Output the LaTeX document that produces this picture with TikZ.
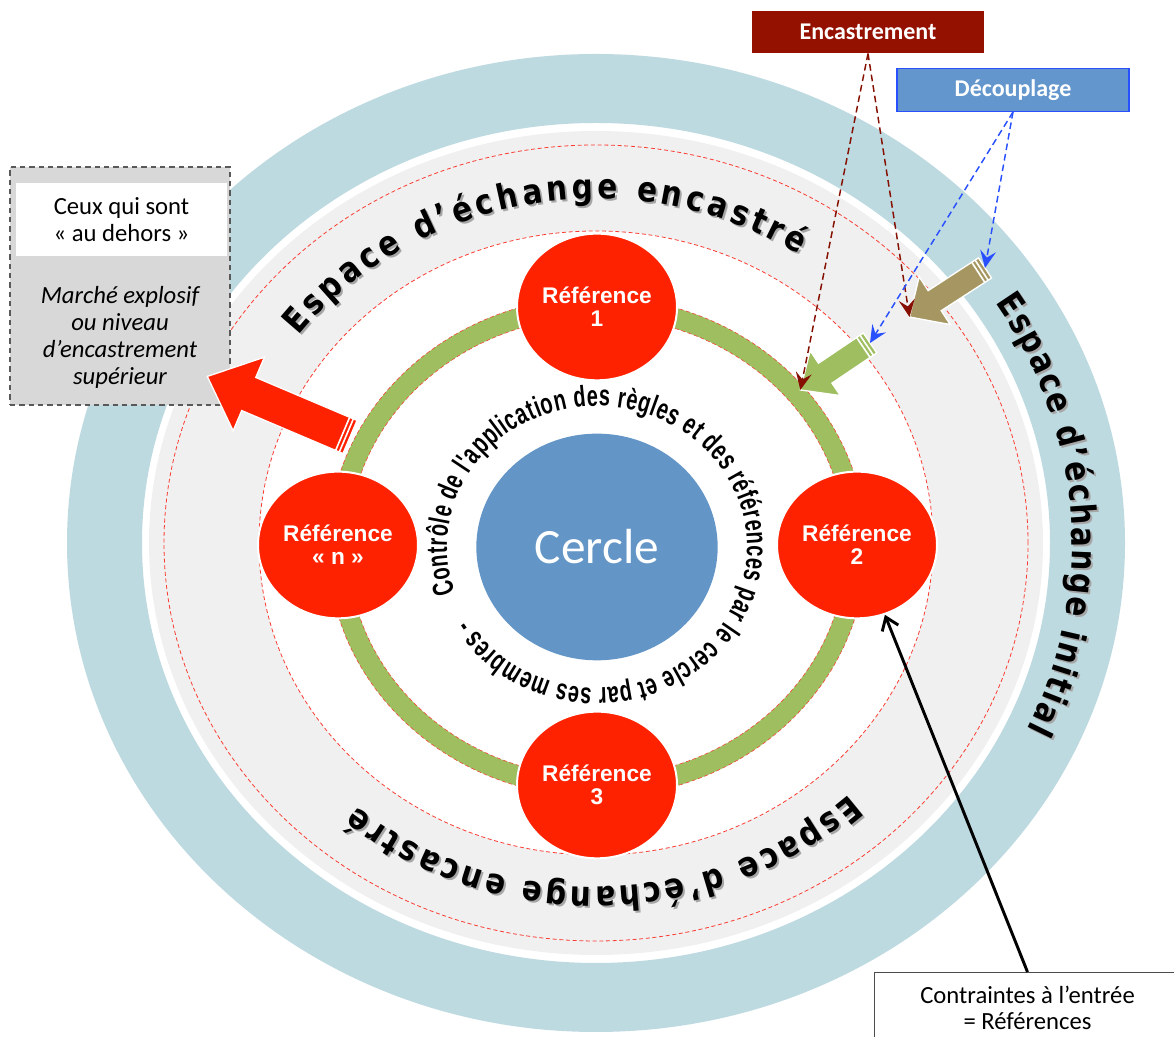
\documentclass[tikz,border=0pt]{standalone}
\usepackage{fontspec}
\setmainfont{Carlito}
\newfontfamily\arialfont{Liberation Sans}
\newfontfamily\ringfont[FakeStretch=0.68]{Liberation Sans}
\newfontfamily\espfont[FakeStretch=0.85]{DejaVu Sans}
\usetikzlibrary{shapes.geometric, arrows.meta, decorations.text, positioning}

\definecolor{ringblue}{RGB}{190,218,225}
\definecolor{diskgray}{RGB}{240,240,240}
\definecolor{refgreen}{RGB}{158,190,96}
\definecolor{refred}{RGB}{255,34,0}
\definecolor{cercleblue}{RGB}{99,150,199}
\definecolor{armbrown}{RGB}{166,151,98}
\definecolor{encred}{RGB}{148,17,0}
\definecolor{decblue}{RGB}{99,150,204}
\definecolor{decline}{RGB}{40,80,255}
\definecolor{boxgray}{RGB}{216,216,216}
\definecolor{dashred}{RGB}{250,60,50}

\tikzset{
  refnode/.style={ellipse, fill=refred, draw=white, line width=1.5pt,
    minimum width=120pt, minimum height=110pt, inner sep=0pt, text=white,
    align=center, font=\arialfont\bfseries\fontsize{17}{17}\selectfont},
  sepline/.style={dashred, line width=0.6pt, dash pattern=on 3pt off 2pt},
  tagbox/.style={rectangle, text=white, font=\bfseries\fontsize{18}{20}\selectfont,
    minimum width=174pt, minimum height=32pt},
  encarrow/.style={encred!90!black, line width=1.1pt, dash pattern=on 5pt off 3pt,
    -{Stealth[length=13pt, width=12pt, inset=5pt]}},
  decarrow/.style={decline, line width=1.1pt, dash pattern=on 5pt off 3pt,
    -{Stealth[length=13pt, width=12pt, inset=5pt]}},
}

% curved label with a soft shadow: rx, ry, start, end, text
\newcommand{\arclabel}[5]{%
  \path[decorate, decoration={text along path, text color=black!35, text align=fit to path,
      text={|\espfont\bfseries\fontsize{26}{26}\selectfont|#5}}]
    ([shift={(#3:#1 and #2)}, xshift=1.5pt, yshift=-1.5pt]ring)
    arc[start angle=#3, end angle=#4, x radius=#1, y radius=#2];
  \path[decorate, decoration={text along path, text align=fit to path,
      text={|\espfont\bfseries\fontsize{26}{26}\selectfont|#5}}]
    ([shift={(#3:#1 and #2)}]ring)
    arc[start angle=#3, end angle=#4, x radius=#1, y radius=#2];
}

% block arrow: name, colour, tail, angle, length, shaft, head width, head length
\newcommand{\blockarrow}[8]{%
  \begin{scope}[shift={(#3)}, rotate=#4]
    \coordinate (#1-tail) at (0,0);
    \coordinate (#1-tip) at (#5,0);
    \filldraw[fill=#2, draw=white, line width=1pt]
      (0,-#6/2) -- (#5-#8,-#6/2) -- (#5-#8,-#7/2) -- (#5,0) --
      (#5-#8,#7/2) -- (#5-#8,#6/2) -- (0,#6/2) -- cycle;
    \foreach \s in {4,8}
      \draw[white, line width=1.2pt] (\s,-#6/2) -- (\s,#6/2);
  \end{scope}}

\begin{document}
\begin{tikzpicture}[x=0.75pt, y=0.75pt]
  \useasboundingbox (0,0) rectangle (1174,1037);
  \coordinate (ring) at (596,494);
  \coordinate (core) at (597,490);

  % exchange spaces
  \fill[ringblue, even odd rule] (ring) ellipse[x radius=529, y radius=489]
    (ring) ellipse[x radius=454, y radius=420];
  \filldraw[fill=diskgray, draw=black!6, line width=1.5pt] (ring) ellipse[x radius=446, y radius=411];
  \draw[sepline] (ring) ellipse[x radius=432, y radius=398];
  \filldraw[sepline, fill=white] (ring) ellipse[x radius=337, y radius=312];

  % ring of references
  \draw[refgreen, line width=15pt] (core) ellipse[x radius=259, y radius=240];
  \draw[sepline, line width=0.4pt] (core) ellipse[x radius=269, y radius=250]
    (core) ellipse[x radius=249, y radius=230];

  \node[refnode] (ref1) at (597,730) {Référence\\1};
  \node[refnode] (ref2) at (857,492) {Référence\\2};
  \node[refnode] (ref3) at (597,252) {Référence\\3};
  \node[refnode] (refn) at (338,492) {Référence\\« n »};

  \node[ellipse, fill=cercleblue, minimum width=181pt, minimum height=170pt, text=white,
    font=\fontsize{37}{40}\selectfont] (cercle) at (core) {Cercle};

  \path[decorate, decoration={text along path, text align=fit to path,
      text={|\ringfont\bfseries\fontsize{22}{22}\selectfont|Contrôle de l'application des règles et des références par le cercle et par ses membres -}}]
    ([shift={(199:150 and 141)}]core) arc[start angle=199, end angle=-149, x radius=150, y radius=141];

  \arclabel{372}{344}{143}{57}{Espace d’échange encastré}
  \arclabel{372}{344}{-47}{-130}{Espace d’échange encastré}
  \arclabel{476}{441}{33}{-25}{Espace d’échange initial}

  % outside
  \node[draw=black!65, dash pattern=on 4pt off 3pt, fill=boxgray, line width=0.8pt,
    minimum width=165pt, minimum height=178.5pt] (outside) at (120,751) {};
  \node[fill=white, minimum width=158pt, minimum height=55pt, align=center,
    font=\fontsize{18.5}{20}\selectfont] (outhead) at (121.5,817.5) {Ceux qui sont\\« au dehors »};
  \node[align=center, font=\itshape\fontsize{18.5}{20.25}\selectfont] (outnote) at (120,700)
    {Marché explosif\\ou niveau\\d’encastrement\\supérieur};

  \blockarrow{out}{refred}{350,600}{157}{155}{36}{80}{45}
  \blockarrow{brown}{armbrown}{985,769}{213}{90}{24}{57}{30}
  \blockarrow{green}{refgreen}{870,694}{214}{84}{24}{54}{30}

  % decoupling and embedding
  \node[tagbox, fill=encred] (enc) at (868,1005) {Encastrement};
  \node[tagbox, fill=decblue, draw=decline, line width=1pt] (dec) at (1013,947) {Découplage};

  \draw[encarrow] (enc.south) -- (green-tip);
  \draw[encarrow] (enc.south) -- (brown-tip);
  \draw[decarrow] (dec.south) -- (brown-tail);
  \draw[decarrow] (dec.south) -- (green-tail);

  % constraints
  \node[draw=black!70, fill=white, line width=0.8pt, anchor=north, minimum width=229pt,
    inner ysep=10pt, align=center, font=\fontsize{18.5}{20}\selectfont] (cont) at (1027.5,65)
    {Contraintes à l’entrée\\= Références};
  \draw[line width=2.2pt, -{Straight Barb[length=9pt, width=13pt]}] (cont.north) -- (ref2);
\end{tikzpicture}
\end{document}
